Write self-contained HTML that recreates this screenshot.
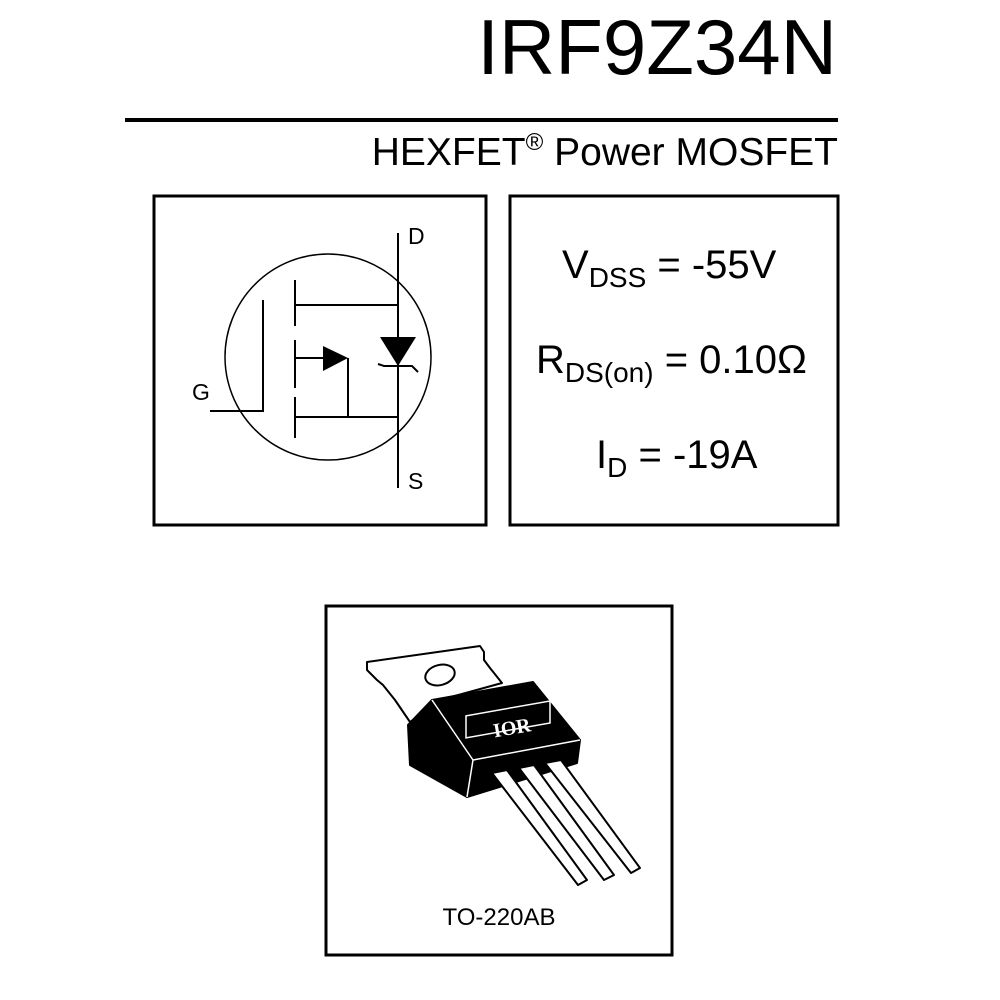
<!DOCTYPE html>
<html><head><style>
body{margin:0;width:1000px;height:1000px;background:#fff;position:relative;font-family:"Liberation Sans",sans-serif;color:#000;overflow:hidden}
.t{position:absolute;white-space:nowrap}
</style></head><body>
<div class="t" style="right:163px;top:2px;font-size:78px;line-height:90px">IRF9Z34N</div>
<div style="position:absolute;left:125px;top:118px;width:713px;height:4px;background:#000"></div>
<div class="t" style="right:162px;top:119px;font-size:39px;line-height:48px">HEXFET<sup style="font-size:24px;vertical-align:15px">®</sup> Power MOSFET</div>
<svg width="1000" height="1000" style="position:absolute;left:0;top:0">
<g fill="none" stroke="#000">
<rect x="154" y="196" width="332" height="329" stroke-width="3"/>
<rect x="510" y="196" width="328" height="329" stroke-width="3"/>
<rect x="326" y="606" width="346" height="349" stroke-width="3"/>
<circle cx="328" cy="357" r="103" stroke-width="1.5"/>
<g stroke-width="2">
<line x1="398" y1="233" x2="398" y2="488"/>
<polyline points="210,411 263,411 263,300"/>
<line x1="295" y1="280" x2="295" y2="326"/>
<line x1="295" y1="340" x2="295" y2="388"/>
<line x1="295" y1="397" x2="295" y2="438"/>
<line x1="295" y1="305" x2="398" y2="305"/>
<line x1="295" y1="417" x2="398" y2="417"/>
<line x1="295" y1="358" x2="325" y2="358"/>
<polyline points="348,358 348,417"/>
<polyline points="378,364 384,366 412,366 418,372"/>
</g></g>
<polygon points="323,346 348,358 323,371" fill="#000"/>
<polygon points="380,337 416,337 398,366" fill="#000"/>
<text x="408" y="244" font-size="23" font-family="Liberation Sans">D</text>
<text x="408" y="489" font-size="23" font-family="Liberation Sans">S</text>
<text x="192" y="400" font-size="23" font-family="Liberation Sans">G</text>
<g stroke="#000" stroke-width="2" stroke-linejoin="round">
<polygon points="367,662 480,646 484,652 484,660 490,668 502,683 440,700 410,722 395,700 383,685 377,680 367,670" fill="#fff"/>
<ellipse cx="440" cy="675" rx="15" ry="10" fill="#fff" transform="rotate(-15 440 675)"/>
<polygon points="408,725 432,700 533,682 580,740 577,763 467,797 410,765" fill="#000"/>
<polygon points="492,773 507,770 587,880 578,885" fill="#fff"/>
<polygon points="519,768 534,765 614,875 604,880" fill="#fff"/>
<polygon points="545,763 561,760 640,868 631,873" fill="#fff"/>
</g>
<g stroke="#fff" stroke-width="1.5" fill="none">
<polyline points="432,700 473,760 467,797"/>
<line x1="473" y1="760" x2="580" y2="740"/>
<rect x="466" y="712" width="84" height="22" transform="skewY(-10) translate(0,86)"/>
</g>
<text x="493" y="735" font-size="20" font-weight="bold" fill="#fff" font-family="Liberation Serif" transform="rotate(-10 508 728)">IOR</text>
<text x="499" y="925" font-size="24" font-family="Liberation Sans" text-anchor="middle">TO-220AB</text>
</svg>
<div class="t" style="left:562px;top:243px;font-size:40px">V<sub style="font-size:28px">DSS</sub> = -55V</div>
<div class="t" style="left:536px;top:338px;font-size:40px">R<sub style="font-size:28px">DS(on)</sub> = 0.10Ω</div>
<div class="t" style="left:596px;top:433px;font-size:40px">I<sub style="font-size:28px">D</sub> = -19A</div>
</body></html>
